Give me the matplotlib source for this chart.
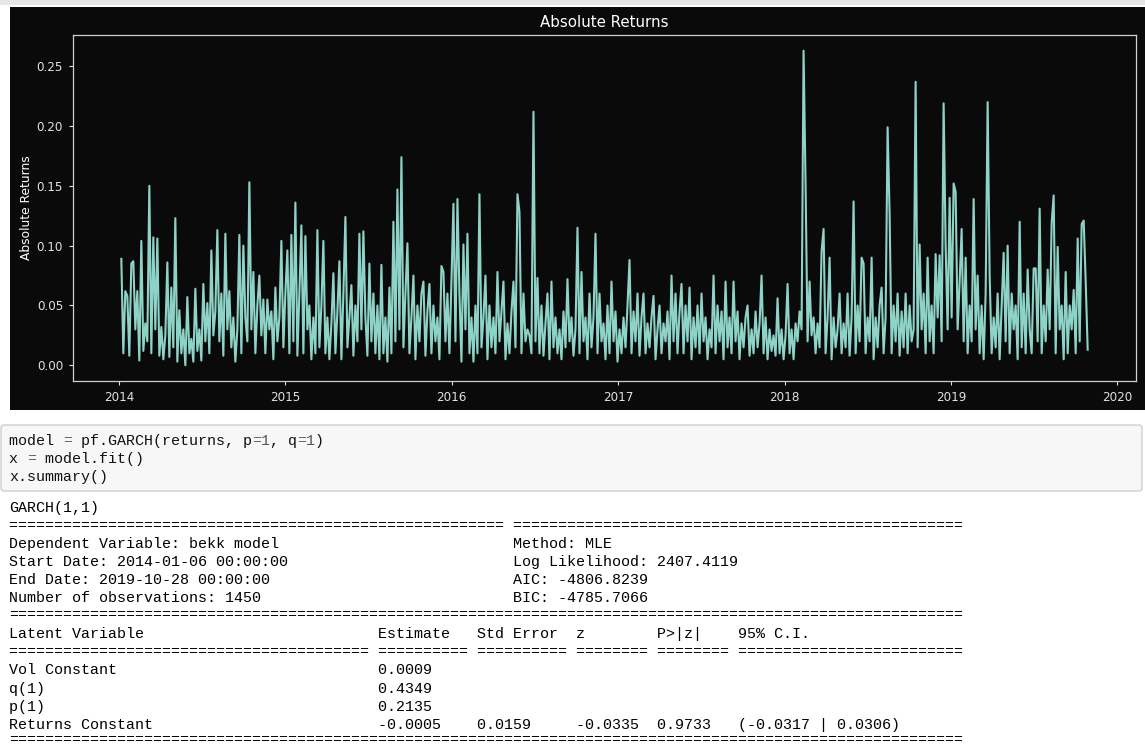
import numpy as np
import pandas as pd
import matplotlib
matplotlib.use("Agg")
import matplotlib.pyplot as plt
import matplotlib.dates as mdates
from matplotlib.patches import Rectangle, FancyBboxPatch

# ---------------- data ----------------
start_date = "2014-01-06"
end_date = "2019-10-28"
abs_returns = [
    0.089, 0.010, 0.062, 0.058, 0.008, 0.085, 0.087, 0.030, 0.062, 0.004,
    0.104, 0.012, 0.035, 0.020, 0.150, 0.010, 0.107, 0.030, 0.106, 0.008,
    0.032, 0.005, 0.025, 0.086, 0.007, 0.065, 0.015, 0.123, 0.003, 0.046,
    0.010, 0.030, 0.000, 0.057, 0.010, 0.022, 0.003, 0.064, 0.012, 0.030,
    0.004, 0.068, 0.020, 0.052, 0.010, 0.096, 0.025, 0.045, 0.113, 0.020,
    0.060, 0.008, 0.110, 0.030, 0.062, 0.015, 0.040, 0.003, 0.030, 0.109,
    0.010, 0.100, 0.040, 0.020, 0.153, 0.030, 0.078, 0.010, 0.050, 0.075,
    0.025, 0.055, 0.010, 0.055, 0.030, 0.045, 0.005, 0.065, 0.020, 0.040,
    0.104, 0.015, 0.060, 0.096, 0.010, 0.109, 0.020, 0.136, 0.008, 0.060,
    0.117, 0.010, 0.108, 0.030, 0.050, 0.005, 0.040, 0.010, 0.113, 0.015,
    0.050, 0.104, 0.010, 0.040, 0.005, 0.035, 0.077, 0.010, 0.045, 0.087,
    0.005, 0.060, 0.124, 0.015, 0.040, 0.067, 0.008, 0.050, 0.020, 0.110,
    0.030, 0.112, 0.040, 0.008, 0.085, 0.020, 0.060, 0.010, 0.050, 0.005,
    0.084, 0.010, 0.040, 0.003, 0.065, 0.010, 0.120, 0.020, 0.147, 0.030,
    0.174, 0.015, 0.060, 0.102, 0.010, 0.040, 0.075, 0.005, 0.050, 0.020,
    0.060, 0.070, 0.008, 0.045, 0.068, 0.010, 0.050, 0.020, 0.040, 0.005,
    0.083, 0.078, 0.020, 0.060, 0.010, 0.070, 0.135, 0.020, 0.139, 0.060,
    0.003, 0.101, 0.030, 0.110, 0.010, 0.040, 0.003, 0.050, 0.010, 0.143,
    0.015, 0.040, 0.075, 0.005, 0.050, 0.015, 0.040, 0.010, 0.078, 0.020,
    0.045, 0.070, 0.005, 0.035, 0.010, 0.045, 0.070, 0.015, 0.143, 0.128,
    0.010, 0.060, 0.020, 0.030, 0.025, 0.010, 0.212, 0.020, 0.073, 0.010,
    0.050, 0.008, 0.035, 0.060, 0.005, 0.070, 0.015, 0.040, 0.010, 0.030,
    0.005, 0.045, 0.015, 0.072, 0.020, 0.040, 0.008, 0.030, 0.115, 0.010,
    0.078, 0.020, 0.040, 0.005, 0.060, 0.015, 0.040, 0.110, 0.010, 0.060,
    0.020, 0.035, 0.005, 0.050, 0.010, 0.070, 0.020, 0.045, 0.003, 0.030,
    0.010, 0.040, 0.015, 0.050, 0.088, 0.010, 0.045, 0.020, 0.060, 0.008,
    0.040, 0.060, 0.010, 0.035, 0.015, 0.040, 0.058, 0.005, 0.030, 0.050,
    0.010, 0.035, 0.020, 0.045, 0.005, 0.075, 0.020, 0.060, 0.010, 0.045,
    0.068, 0.010, 0.050, 0.020, 0.065, 0.005, 0.040, 0.015, 0.050, 0.010,
    0.060, 0.020, 0.040, 0.005, 0.030, 0.015, 0.075, 0.010, 0.050, 0.020,
    0.045, 0.005, 0.070, 0.015, 0.040, 0.010, 0.070, 0.020, 0.045, 0.005,
    0.035, 0.015, 0.040, 0.050, 0.008, 0.030, 0.010, 0.045, 0.015, 0.035,
    0.075, 0.010, 0.040, 0.005, 0.030, 0.012, 0.025, 0.008, 0.056, 0.010,
    0.030, 0.005, 0.025, 0.068, 0.010, 0.030, 0.005, 0.035, 0.020, 0.045,
    0.030, 0.263, 0.151, 0.020, 0.070, 0.025, 0.040, 0.010, 0.035, 0.015,
    0.095, 0.114, 0.010, 0.040, 0.090, 0.005, 0.040, 0.015, 0.030, 0.060,
    0.010, 0.035, 0.015, 0.060, 0.008, 0.040, 0.137, 0.010, 0.050, 0.020,
    0.090, 0.085, 0.010, 0.040, 0.020, 0.090, 0.005, 0.040, 0.015, 0.050,
    0.065, 0.010, 0.040, 0.199, 0.126, 0.010, 0.050, 0.020, 0.060, 0.008,
    0.045, 0.015, 0.060, 0.010, 0.050, 0.020, 0.030, 0.237, 0.015, 0.101,
    0.030, 0.060, 0.010, 0.090, 0.020, 0.050, 0.010, 0.093, 0.040, 0.092,
    0.020, 0.219, 0.100, 0.030, 0.140, 0.040, 0.152, 0.145, 0.030, 0.070,
    0.114, 0.020, 0.090, 0.010, 0.050, 0.020, 0.139, 0.030, 0.075, 0.010,
    0.050, 0.005, 0.060, 0.220, 0.075, 0.010, 0.040, 0.015, 0.060, 0.005,
    0.050, 0.094, 0.020, 0.100, 0.010, 0.060, 0.030, 0.050, 0.005, 0.120,
    0.015, 0.060, 0.010, 0.080, 0.030, 0.010, 0.081, 0.081, 0.020, 0.131,
    0.010, 0.050, 0.020, 0.080, 0.030, 0.119, 0.142, 0.010, 0.099, 0.030,
    0.050, 0.005, 0.078, 0.010, 0.050, 0.030, 0.063, 0.010, 0.106, 0.020,
    0.118, 0.121, 0.070, 0.013,
]
year_ticks = [2014, 2015, 2016, 2017, 2018, 2019, 2020]

code_lines = [
    "model = pf.GARCH(returns, p=1, q=1)",
    "x = model.fit()",
    "x.summary()",
]

model_name = "GARCH(1,1)"
header_left = ["Dependent Variable: bekk model",
               "Start Date: 2014-01-06 00:00:00",
               "End Date: 2019-10-28 00:00:00",
               "Number of observations: 1450"]
header_right = ["Method: MLE",
                "Log Likelihood: 2407.4119",
                "AIC: -4806.8239",
                "BIC: -4785.7066"]
table_cols = ["Latent Variable", "Estimate", "Std Error", "z", "P>|z|", "95% C.I."]
latent_names = ["Vol Constant", "q(1)", "p(1)", "Returns Constant"]
estimates = ["0.0009", "0.4349", "0.2135", "-0.0005"]
std_errors = ["", "", "", "0.0159"]
z_values = ["", "", "", "-0.0335"]
p_values = ["", "", "", "0.9733"]
conf_int = ["", "", "", "(-0.0317 | 0.0306)"]

# ---------------- figure ----------------
W, H = 1145, 744
fig = plt.figure(figsize=(W / 100, H / 100), dpi=100, facecolor="white")

bg = fig.add_axes([0, 0, 1, 1], zorder=0)
bg.set_xlim(0, W)
bg.set_ylim(H, 0)
bg.axis("off")

# notebook chrome
bg.add_patch(Rectangle((0, 0), W, 5, fc="#e6e6e6", ec="none"))
bg.add_patch(Rectangle((10, 7), W - 10, 403, fc="#0a0a0a", ec="none"))
bg.add_patch(FancyBboxPatch((1, 425), W - 4, 66,
                            boxstyle="round,pad=0,rounding_size=3",
                            fc="#f7f7f7", ec="#cfcfcf", lw=1))

# ---------------- chart ----------------
dates = pd.date_range(start_date, end_date, periods=len(abs_returns))
ax = fig.add_axes([73 / W, 1 - 381 / H, (1136 - 73) / W, (381 - 35) / H], zorder=1)
ax.set_facecolor("#0a0a0a")
ax.plot(dates, abs_returns, color="#8dd3c7", lw=1.5)
ax.set_title("Absolute Returns", color="white", fontsize=10.8, pad=6)
ax.set_ylabel("Absolute Returns", color="white", fontsize=8.8, labelpad=2.5)
ax.xaxis.set_major_locator(mdates.YearLocator())
ax.xaxis.set_major_formatter(mdates.DateFormatter("%Y"))
ax.set_yticks([0.0, 0.05, 0.10, 0.15, 0.20, 0.25])
ax.set_yticklabels(["0.00", "0.05", "0.10", "0.15", "0.20", "0.25"])
ax.tick_params(colors="#e0e0e0", labelsize=8.64, length=3, width=0.8, pad=4.2)
for s in ax.spines.values():
    s.set_color("#d0d0d0")
    s.set_linewidth(0.9)

# ---------------- notebook text ----------------
MONO = "Liberation Mono"
FS = 10.8
CW = 9.0
X0 = 9


def mono(y, segments, x0=X0):
    col = 0
    for txt, color in segments:
        bg.text(x0 + col * CW, y, txt, color=color, family=MONO, fontsize=FS,
                va="center", ha="left")
        col += len(txt)


K = "#111111"
OP = "#666666"
NUM = "#555555"

mono(441, [("model ", K), ("=", OP), (" pf.GARCH(returns, p", K), ("=", OP),
           ("1", NUM), (", q", K), ("=", OP), ("1", NUM), (")", K)])
mono(459, [("x ", K), ("=", OP), (" model.fit()", K)])
mono(477, [(code_lines[2], K)])

lines = [model_name, "=" * 55 + " " + "=" * 50]
for l, r in zip(header_left, header_right):
    lines.append(f"{l:<56}{r}")
lines.append("=" * 106)
widths = [41, 11, 11, 9, 9]
lines.append("".join(f"{c:<{w}}" for c, w in zip(table_cols[:-1], widths)) + table_cols[-1])
lines.append(" ".join("=" * n for n in [40, 10, 10, 8, 8, 25]))
for row in zip(latent_names, estimates, std_errors, z_values, p_values, conf_int):
    lines.append("".join(f"{c:<{w}}" for c, w in zip(row[:-1], widths)) + row[-1])
lines.append("=" * 106)

ys = [508, 525.5, 544, 562, 580, 598, 615.5, 634, 651.5, 670, 688.5, 706.5, 725, 740.5]
for y, txt in zip(ys, lines):
    mono(y, [(txt.rstrip(), "#000000")])

fig.savefig("out.png", dpi=100, facecolor="white")
